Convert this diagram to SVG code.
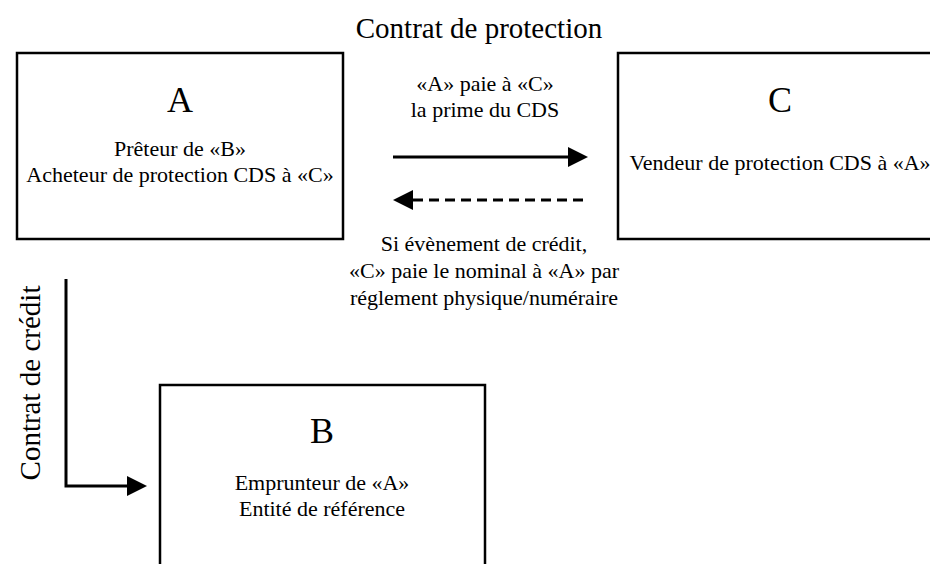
<svg xmlns="http://www.w3.org/2000/svg" width="930" height="564" viewBox="0 0 930 564">
<style>
.box{fill:#fff;stroke:#000;stroke-width:2.5}
.t{font-family:"Liberation Serif","Times New Roman",serif;fill:#000;text-anchor:middle}
.big{font-size:36px}
.lbl{font-size:22px}
.ttl{font-size:29px}
.con{fill:none;stroke:#000;stroke-width:3}
</style>
<defs>
<marker id="ah" markerUnits="userSpaceOnUse" markerWidth="20" markerHeight="20" refX="0" refY="10" orient="auto-start-reverse" viewBox="0 0 20 20">
<path d="M0,0 L20,10 L0,20 z" fill="#000"/>
</marker>
</defs>
<rect width="930" height="564" fill="#fff"/>
<text class="t ttl" x="479" y="38">Contrat de protection</text>
<text class="t ttl" transform="translate(40,383) rotate(-90)">Contrat de crédit</text>
<g id="nodeA">
<rect class="box" x="17" y="53" width="326" height="186"/>
<text class="t big" x="180" y="112">A</text>
<text class="t lbl" x="180" y="156">Prêteur de «B»</text>
<text class="t lbl" x="180" y="182">Acheteur de protection CDS à «C»</text>
</g>
<g id="nodeC">
<rect class="box" x="618" y="53" width="326" height="186"/>
<text class="t big" x="780" y="112">C</text>
<text class="t lbl" x="780" y="170">Vendeur de protection CDS à «A»</text>
</g>
<g id="nodeB">
<rect class="box" x="160" y="385" width="325" height="200"/>
<text class="t big" x="322" y="443">B</text>
<text class="t lbl" x="322" y="490">Emprunteur de «A»</text>
<text class="t lbl" x="322" y="516">Entité de référence</text>
</g>
<g id="connectors">
<line class="con" x1="393" y1="157" x2="568" y2="157" marker-end="url(#ah)"/>
<line class="con" x1="413" y1="200" x2="587" y2="200" stroke-dasharray="10 6" marker-start="url(#ah)"/>
<polyline class="con" points="66,279 66,486 127,486" marker-end="url(#ah)"/>
<text class="t lbl" x="485" y="91">«A» paie à «C»</text>
<text class="t lbl" x="485" y="117">la prime du CDS</text>
<text class="t lbl" x="484" y="251">Si évènement de crédit,</text>
<text class="t lbl" x="484" y="278">«C» paie le nominal à «A» par</text>
<text class="t lbl" x="484" y="305">réglement physique/numéraire</text>
</g>
</svg>
